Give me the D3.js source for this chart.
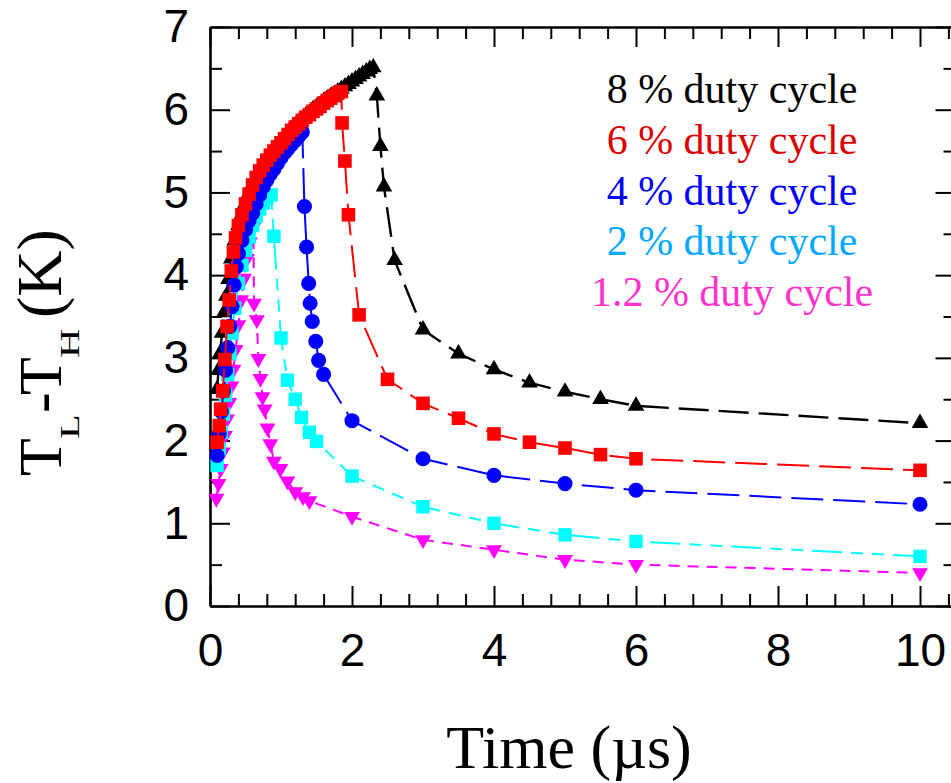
<!DOCTYPE html>
<html><head><meta charset="utf-8">
<script src="https://cdn.jsdelivr.net/npm/d3@7"></script>
<style>body{margin:0;background:#fff}svg{display:block}</style>
</head><body>
<svg id="chart" width="951" height="783"></svg>
<script>
// ---- data ----
const legendLabels = ["8 % duty cycle", "6 % duty cycle", "4 % duty cycle", "2 % duty cycle", "1.2 % duty cycle"];
const xTickValues = [0, 2, 4, 6, 8, 10];
const yTickValues = [0, 1, 2, 3, 4, 5, 6, 7];

const duty8 = [[0.10,2.62],[0.12,2.85],[0.14,3.05],[0.17,3.30],[0.20,3.55],[0.23,3.75],[0.26,3.95],[0.30,4.20],[0.35,4.42],[0.40,4.60],[0.45,4.74],[0.50,4.87],[0.55,4.99],[0.60,5.10],[0.65,5.19],[0.70,5.27],[0.75,5.34],[0.80,5.41],[0.85,5.47],[0.90,5.52],[0.95,5.57],[1.00,5.62],[1.05,5.67],[1.10,5.72],[1.15,5.77],[1.20,5.81],[1.25,5.85],[1.30,5.89],[1.35,5.93],[1.40,5.96],[1.45,6.00],[1.50,6.03],[1.55,6.06],[1.60,6.10],[1.65,6.13],[1.70,6.16],[1.75,6.19],[1.80,6.22],[1.85,6.25],[1.90,6.28],[1.95,6.31],[2.00,6.34],[2.05,6.37],[2.10,6.40],[2.15,6.43],[2.20,6.46],[2.25,6.49],[2.30,6.51],
  [2.35,6.17],[2.40,5.56],[2.45,5.07],[2.60,4.18],[3.00,3.34],[3.50,3.05],[4.00,2.86],[4.50,2.70],[5.00,2.59],[5.50,2.50],[6.00,2.42],[10.00,2.21]];
const duty6 = [[0.10,1.98],[0.13,2.18],[0.15,2.38],[0.18,2.60],[0.21,2.98],[0.24,3.38],[0.27,3.70],[0.30,4.05],[0.33,4.28],[0.36,4.45],[0.40,4.60],[0.45,4.73],[0.50,4.86],[0.55,4.98],[0.60,5.09],[0.65,5.18],[0.70,5.26],[0.75,5.33],[0.80,5.39],[0.85,5.45],[0.90,5.50],[0.95,5.55],[1.00,5.60],[1.05,5.65],[1.10,5.70],[1.15,5.75],[1.20,5.79],[1.25,5.83],[1.30,5.87],[1.35,5.91],[1.40,5.94],[1.45,5.98],[1.50,6.01],[1.55,6.04],[1.60,6.08],[1.65,6.11],[1.70,6.14],[1.75,6.17],[1.80,6.20],[1.85,6.22],
  [1.86,5.84],[1.90,5.38],[1.95,4.73],[2.10,3.52],[2.50,2.74],[3.00,2.45],[3.50,2.27],[4.00,2.08],[4.50,1.98],[5.00,1.91],[5.50,1.83],[6.00,1.78],[10.00,1.64]];
const duty4 = [[0.10,1.82],[0.13,2.08],[0.16,2.35],[0.19,2.60],[0.22,2.85],[0.25,3.12],[0.28,3.38],[0.31,3.62],[0.34,3.88],[0.37,4.10],[0.40,4.26],[0.45,4.42],[0.50,4.55],[0.55,4.66],[0.60,4.75],[0.65,4.86],[0.70,4.97],[0.75,5.07],[0.80,5.15],[0.85,5.22],[0.90,5.28],[0.95,5.35],[1.00,5.42],[1.05,5.48],[1.10,5.53],[1.15,5.58],[1.20,5.63],[1.25,5.68],[1.30,5.73],
  [1.33,4.83],[1.36,4.34],[1.39,3.90],[1.41,3.66],[1.44,3.44],[1.49,3.20],[1.53,2.97],[1.60,2.80],[2.00,2.24],[3.00,1.78],[4.00,1.58],[5.00,1.48],[6.00,1.40],[10.00,1.23]];
const duty2 = [[0.10,1.70],[0.13,1.90],[0.16,2.10],[0.19,2.32],[0.22,2.55],[0.25,2.80],[0.28,3.05],[0.31,3.30],[0.35,3.60],[0.40,3.90],[0.45,4.12],[0.50,4.30],[0.55,4.46],[0.60,4.60],[0.65,4.71],[0.70,4.80],[0.75,4.87],[0.80,4.93],[0.86,4.97],
  [0.90,4.47],[1.00,3.24],[1.09,2.73],[1.20,2.50],[1.29,2.28],[1.40,2.10],[1.50,1.99],[2.00,1.57],[3.00,1.20],[4.00,1.00],[5.00,0.86],[6.00,0.78],[10.00,0.60]];
const duty12 = [[0.09,1.30],[0.12,1.48],[0.15,1.66],[0.18,1.86],[0.21,2.06],[0.24,2.26],[0.27,2.46],[0.30,2.66],[0.33,2.86],[0.36,3.10],[0.40,3.40],[0.44,3.70],[0.48,3.96],[0.52,4.20],[0.56,4.40],[0.61,4.58],
  [0.62,3.66],[0.66,3.46],[0.68,2.99],[0.71,2.75],[0.74,2.53],[0.77,2.38],[0.81,2.15],[0.85,1.96],[0.90,1.75],[0.99,1.66],[1.09,1.51],[1.20,1.38],[1.31,1.32],[1.40,1.27],[2.00,1.08],[3.00,0.80],[4.00,0.68],[5.00,0.56],[6.00,0.50],[10.00,0.40]];

// ---- styling ----
const series = [
  {data: duty8,  color:"#000000", text:"#000000", sym:d3.symbolTriangle, size:120, rot:0,   dash:"30,10", w:2.4},
  {data: duty12, color:"#ff00ff", text:"#ff33cc", sym:d3.symbolTriangle, size:110, rot:180, dash:"11,8",  w:2},
  {data: duty2,  color:"#00ffff", text:"#00a8ff", sym:d3.symbolSquare,   size:180, rot:0,   dash:"30,9,12,9,12,9", w:2},
  {data: duty4,  color:"#0000ff", text:"#0000ff", sym:d3.symbolCircle,   size:180, rot:0,   dash:"32,10", w:2},
  {data: duty6,  color:"#ff0000", text:"#dd0000", sym:d3.symbolSquare,   size:185, rot:0,   dash:"32,10", w:2}
];
const legendOrder = [0, 4, 3, 2, 1];

const svg = d3.select("#chart");
const x = d3.scaleLinear().domain([0, 10.5]).range([210, 955.5]);
const y = d3.scaleLinear().domain([0, 7]).range([606, 27]);
const X0 = x(0), X1 = x(10.5), Y0 = y(0), Y1 = y(7);

const minorX = d3.range(0, 10.41, 0.4).filter(v => Math.abs(v/2 - Math.round(v/2)) > 1e-6);
const minorY = d3.range(0.5, 7, 1);

function styleAxis(g){
  g.select(".domain").attr("stroke","#000").attr("stroke-width",2.6);
  g.selectAll(".tick line").attr("stroke","#000").attr("stroke-width",2);
}
const tickFont = "'Liberation Sans', Arial, sans-serif";

// bottom
svg.append("g").attr("transform",`translate(0,${Y0})`)
  .call(d3.axisBottom(x).tickValues(xTickValues).tickSizeInner(-20).tickSizeOuter(0).tickPadding(27).tickFormat(d3.format("d")))
  .call(styleAxis)
  .call(g => g.selectAll("text").attr("font-family",tickFont).attr("font-size",46).attr("fill","#000"));
svg.append("g").attr("transform",`translate(0,${Y0})`)
  .call(d3.axisBottom(x).tickValues(minorX).tickSizeInner(-12).tickSizeOuter(0).tickFormat(""))
  .call(styleAxis).call(g => g.select(".domain").remove());
// top
svg.append("g").attr("transform",`translate(0,${Y1})`)
  .call(d3.axisTop(x).tickValues(xTickValues).tickSizeInner(-20).tickSizeOuter(0).tickFormat(""))
  .call(styleAxis);
svg.append("g").attr("transform",`translate(0,${Y1})`)
  .call(d3.axisTop(x).tickValues(minorX).tickSizeInner(-12).tickSizeOuter(0).tickFormat(""))
  .call(styleAxis).call(g => g.select(".domain").remove());
// left
svg.append("g").attr("transform",`translate(${X0},0)`)
  .call(d3.axisLeft(y).tickValues(yTickValues).tickSizeInner(-20).tickSizeOuter(0).tickPadding(21).tickFormat(d3.format("d")))
  .call(styleAxis)
  .call(g => g.selectAll("text").attr("font-family",tickFont).attr("font-size",46).attr("fill","#000"));
svg.append("g").attr("transform",`translate(${X0},0)`)
  .call(d3.axisLeft(y).tickValues(minorY).tickSizeInner(-12).tickSizeOuter(0).tickFormat(""))
  .call(styleAxis).call(g => g.select(".domain").remove());
// right
svg.append("g").attr("transform",`translate(${X1},0)`)
  .call(d3.axisRight(y).tickValues(yTickValues).tickSizeInner(-20).tickSizeOuter(0).tickFormat(""))
  .call(styleAxis);
svg.append("g").attr("transform",`translate(${X1},0)`)
  .call(d3.axisRight(y).tickValues(minorY).tickSizeInner(-12).tickSizeOuter(0).tickFormat(""))
  .call(styleAxis).call(g => g.select(".domain").remove());

// series
const line = d3.line().x(d => x(d[0])).y(d => y(d[1]));
series.forEach(s => {
  const g = svg.append("g");
  g.append("path").datum(s.data).attr("d", line).attr("fill","none")
    .attr("stroke", s.color).attr("stroke-width", s.w).attr("stroke-dasharray", s.dash);
  const sym = d3.symbol().type(s.sym).size(s.size);
  g.selectAll("path.m").data(s.data).join("path").attr("class","m")
    .attr("d", sym)
    .attr("transform", d => `translate(${x(d[0])},${y(d[1])}) rotate(${s.rot})`)
    .attr("fill", s.color);
});

// legend
const serif = "'Liberation Serif', 'Times New Roman', serif";
legendOrder.forEach((si, i) => {
  svg.append("text").attr("x", 732).attr("y", 103 + i*50.8)
    .attr("text-anchor","middle").attr("font-family",serif).attr("font-size",42)
    .attr("fill", series[si].text).text(legendLabels[i]);
});

// axis titles
svg.append("text").attr("x", 569).attr("y", 768).attr("text-anchor","middle")
  .attr("font-family",serif).attr("font-size",62).attr("fill","#000").text("Time (µs)");

const yt = svg.append("g").attr("transform","translate(61,476) rotate(-90)")
  .attr("font-family",serif).attr("fill","#000");
yt.append("text").attr("x",0).attr("y",0).attr("font-size",62).text("T");
yt.append("text").attr("transform","translate(37,18) scale(1.45,1)").attr("font-size",28).text("L");
yt.append("text").attr("x",63).attr("y",0).attr("font-size",62).text("-");
yt.append("text").attr("x",81).attr("y",0).attr("font-size",62).text("T");
yt.append("text").attr("transform","translate(118,18) scale(1.45,1)").attr("font-size",28).text("H");
yt.append("text").attr("x",158).attr("y",0).attr("font-size",64).text("(K)");
</script>
</body></html>
